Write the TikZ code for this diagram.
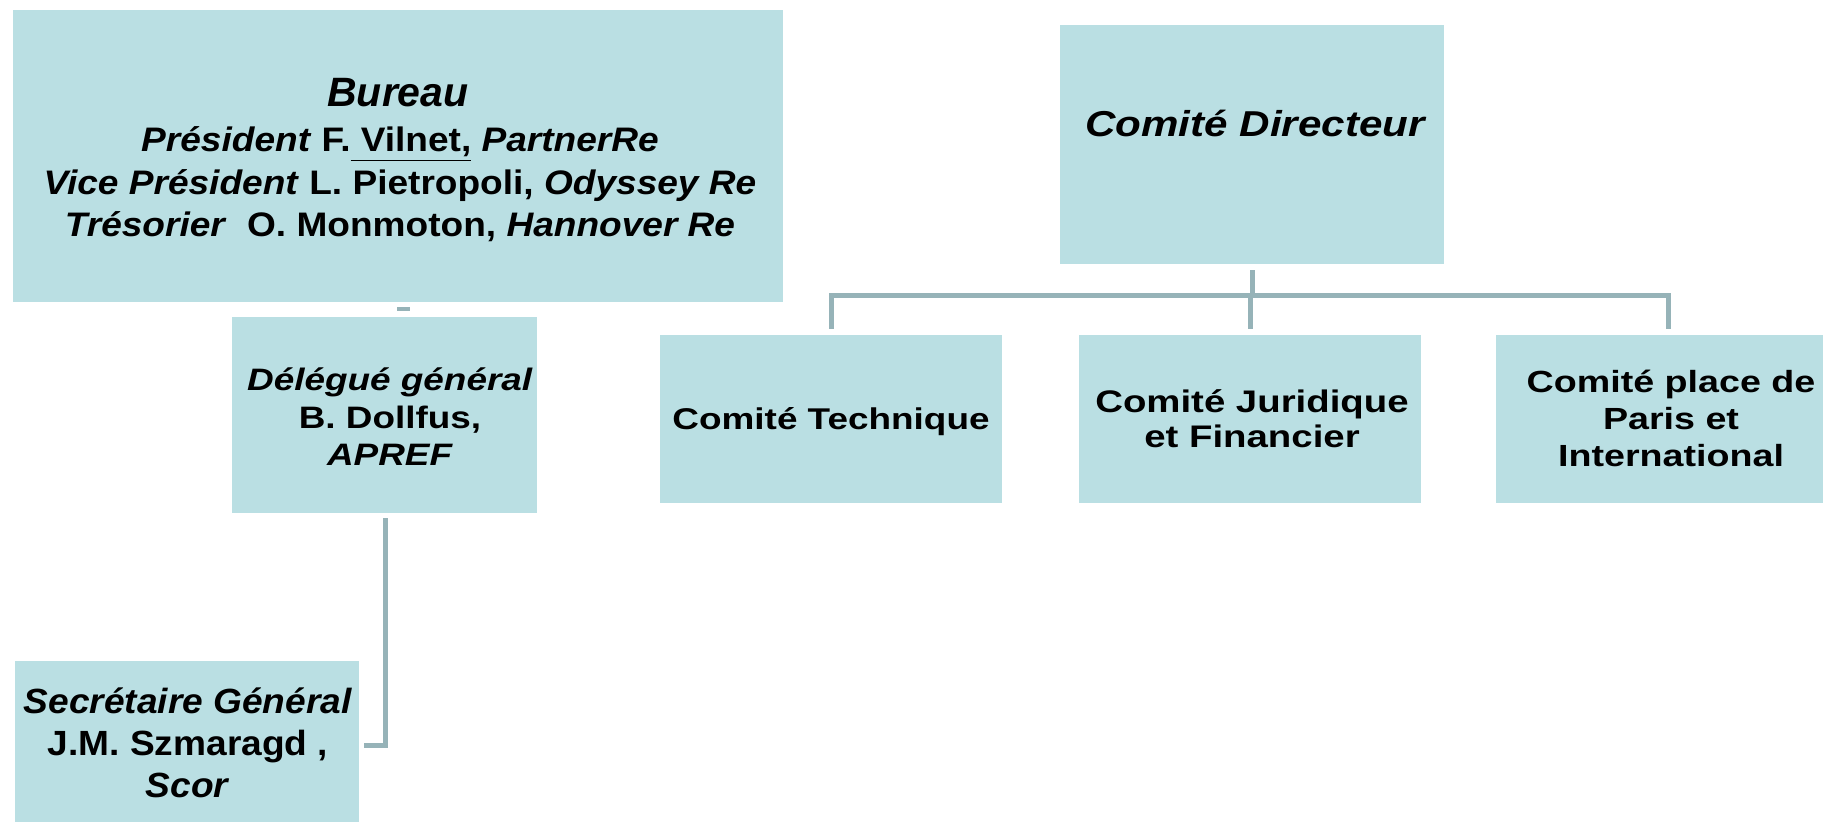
\documentclass[tikz,border=0pt]{standalone}
\usepackage{fontspec}
\setmainfont{Liberation Sans}
\newfontfamily\fBur[FakeStretch=1.09]{Liberation Sans}
\newfontfamily\fCD[FakeStretch=1.17]{Liberation Sans}
\newfontfamily\fDel[FakeStretch=1.19]{Liberation Sans}
\newfontfamily\fSec[FakeStretch=1.06]{Liberation Sans}
\newfontfamily\fCom[FakeStretch=1.23]{Liberation Sans}
\definecolor{boxfill}{HTML}{BADFE3}
\definecolor{conncol}{HTML}{96B3B8}
\begin{document}
\begin{tikzpicture}[x=0.5pt,y=-0.5pt,
  box/.style={rectangle, fill=boxfill, draw=none, inner sep=0pt},
  lbl/.style={anchor=base, align=center, inner sep=0pt},
  conn/.style={draw=conncol, line width=2.5pt, line join=miter}]
\useasboundingbox (0,0) rectangle (1823,822);
\clip (0,0) rectangle (1823,822);

% boxes
\node[box, minimum width=385pt, minimum height=146pt] (bur) at (398,156) {};
\node[box, minimum width=192pt, minimum height=119.5pt] (cd) at (1252,144.5) {};
\node[box, minimum width=152.5pt, minimum height=98pt] (del) at (384.5,415) {};
\node[box, minimum width=172pt, minimum height=98pt] (sec) at (187,759) {};
\node[box, minimum width=171pt, minimum height=84pt] (tech) at (831,419) {};
\node[box, minimum width=171pt, minimum height=84pt] (jur) at (1250,419) {};
\node[box, minimum width=172pt, minimum height=84pt] (place) at (1668,419) {};

% texts (anchor base = baseline of the last line)
\node[lbl, font=\fontsize{20.5pt}{24pt}\selectfont\bfseries\itshape] (burt) at (398,107) {Bureau};
\node[lbl, font=\fBur\fontsize{17pt}{21.25pt}\selectfont\bfseries] (burl) at (400,237)
  {\textit{Président} F.\underline{\ Vilnet,} \textit{PartnerRe}\\
   \textit{Vice Président} L. Pietropoli, \textit{Odyssey Re}\\
   \textit{Trésorier}\ \ O. Monmoton, \textit{Hannover Re}};
\node[lbl, font=\fCD\fontsize{18pt}{21.6pt}\selectfont\bfseries\itshape] (cdt) at (1255,137) {Comité Directeur};
\node[lbl, font=\fDel\fontsize{15.5pt}{18.75pt}\selectfont\bfseries] (delt) at (390,466)
  {\textit{Délégué général}\\ B. Dollfus,\\ \textit{APREF}};
\node[lbl, font=\fSec\fontsize{17.5pt}{21pt}\selectfont\bfseries] (sect) at (188,797)
  {\textit{Secrétaire Général}\\ J.M. Szmaragd ,\\ \textit{Scor}};
\node[lbl, font=\fCom\fontsize{15pt}{18pt}\selectfont\bfseries] (techt) at (831,430) {Comité Technique};
\node[lbl, font=\fCom\fontsize{15.6pt}{17.5pt}\selectfont\bfseries] (jurt) at (1252,448)
  {Comité Juridique\\ et Financier};
\node[lbl, font=\fCom\fontsize{15.3pt}{18.5pt}\selectfont\bfseries] (placet) at (1671,467)
  {Comité place de\\ Paris et\\ International};

% connectors
\coordinate (bar) at (0,296);
\coordinate (sj) at (385,745);
\draw[conn, shorten <=3pt] (cd.south) -- (cd.south |- bar);
\draw[conn, shorten <=3pt, shorten >=3pt] (tech.north) -- (tech.north |- bar) -- (place.north |- bar) -- (place.north);
\draw[conn, shorten >=3pt] (jur.north |- bar) -- (jur.north);
\draw[conn, shorten <=2.5pt, shorten >=2.5pt] (del.south -| sj) -- (sj) -- (sj -| sec.east);
\fill[conncol] (397,307) rectangle (410,311);
\end{tikzpicture}
\end{document}
